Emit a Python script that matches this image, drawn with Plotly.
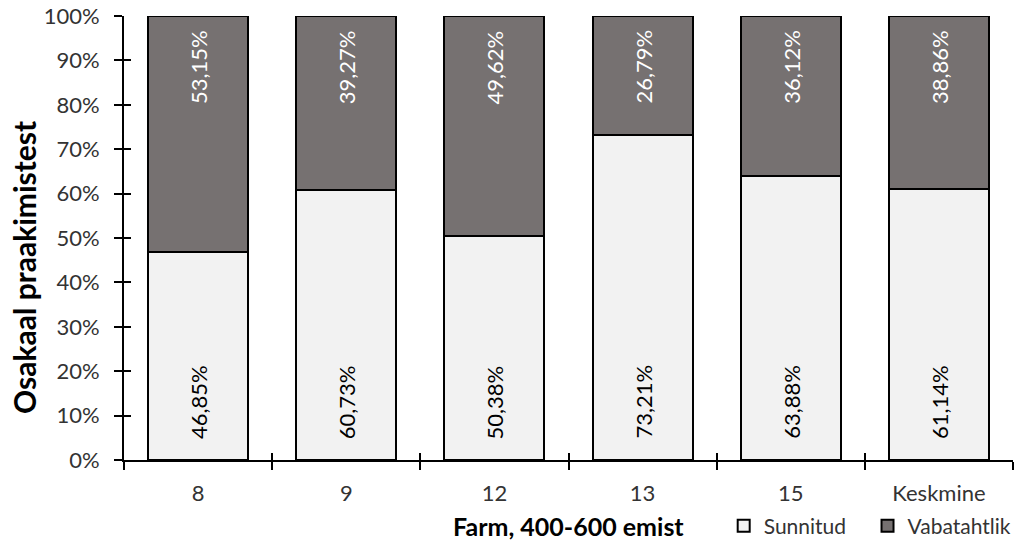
import plotly.graph_objects as go

categories = ["8", "9", "12", "13", "15", "Keskmine"]
sunnitud = [46.85, 60.73, 50.38, 73.21, 63.88, 61.14]
vabatahtlik = [53.15, 39.27, 49.62, 26.79, 36.12, 38.86]
y_ticks = [0, 10, 20, 30, 40, 50, 60, 70, 80, 90, 100]

FONT = "Lato"
LIGHT = "#f2f2f2"
DARK = "#767171"
TXT = "#333333"


def fmt(v):
    return f"{v:.2f}".replace(".", ",") + "%"


fig = go.Figure()
fig.add_trace(go.Bar(
    x=categories, y=sunnitud, name="Sunnitud", legend="legend",
    marker=dict(color=LIGHT, line=dict(color="black", width=2)),
    width=0.675, hoverinfo="skip",
))
fig.add_trace(go.Bar(
    x=categories, y=vabatahtlik, name="Vabatahtlik", legend="legend2",
    marker=dict(color=DARK, line=dict(color="black", width=2)),
    width=0.675, hoverinfo="skip",
))
# invisible trace carrying the secondary axes (inner tick halves)
fig.add_trace(go.Bar(x=categories, y=[0] * len(categories), xaxis="x2",
                     yaxis="y2", showlegend=False, hoverinfo="skip",
                     marker=dict(color="rgba(0,0,0,0)")))

annotations = []
for i, (s, v) in enumerate(zip(sunnitud, vabatahtlik)):
    annotations.append(dict(
        x=i, y=0, xref="x", yref="y", text=fmt(s), showarrow=False,
        textangle=-90, yanchor="bottom", yshift=19,
        font=dict(family=FONT, size=22, color="black"),
    ))
    annotations.append(dict(
        x=i, y=s + v, xref="x", yref="y", text=fmt(v), showarrow=False,
        textangle=-90, yanchor="top", yshift=-12,
        font=dict(family=FONT, size=22, color="white"),
    ))

# axis titles
annotations.append(dict(
    x=0.5, y=-0.1486, xref="paper", yref="paper", showarrow=False,
    text="<b>Farm, 400-600 emist</b>", xanchor="center", yanchor="middle",
    font=dict(family=FONT, size=25, color="black"),
))
annotations.append(dict(
    x=-0.1125, y=0.4347, xref="paper", yref="paper", showarrow=False,
    text="<b>Osakaal praakimistest</b>", textangle=-90,
    xanchor="center", yanchor="middle",
    font=dict(family=FONT, size=30, color="black"),
))

n = len(categories)
xr = [-0.5, n - 0.5]

legend_common = dict(
    orientation="h", xref="container", yref="container",
    xanchor="left", y=0.0349, yanchor="middle",
    font=dict(family=FONT, size=21, color=TXT), itemwidth=30,
)

fig.update_layout(
    barmode="stack",
    width=1015, height=545,
    margin=dict(l=124, r=2, t=16, b=85),
    plot_bgcolor="white", paper_bgcolor="white",
    font=dict(family=FONT, size=22, color=TXT),
    annotations=annotations,
    showlegend=True,
    hovermode=False,
    legend=dict(x=0.7130, **legend_common),
    legend2=dict(x=0.8547, **legend_common),
    xaxis=dict(
        type="category", range=xr, automargin=False,
        categoryorder="array", categoryarray=categories,
        showline=True, linecolor="black", linewidth=2,
        ticks="outside", tickson="boundaries", ticklen=8, tickwidth=2,
        tickcolor="black", showgrid=False, tickangle=0,
        ticklabelstandoff=13, ticklabeloverflow="allow",
        tickfont=dict(family=FONT, size=22, color=TXT),
    ),
    yaxis=dict(
        range=[0, 100], automargin=False, tickvals=y_ticks,
        ticktext=[f"{t}%" for t in y_ticks],
        showline=True, linecolor="black", linewidth=2,
        ticks="outside", ticklen=8, tickwidth=2, tickcolor="black",
        showgrid=False, zeroline=False, ticklabelstandoff=10,
        ticklabeloverflow="allow",
        tickfont=dict(family=FONT, size=22, color=TXT),
    ),
    xaxis2=dict(
        type="category", overlaying="x", range=xr, automargin=False,
        categoryorder="array", categoryarray=categories,
        showticklabels=False,
        ticks="inside", tickson="boundaries", ticklen=7, tickwidth=2,
        tickcolor="black", showgrid=False, showline=False,
        anchor="y2",
    ),
    yaxis2=dict(
        overlaying="y", range=[0, 100], automargin=False,
        showticklabels=False,
        tickvals=y_ticks, ticks="inside", ticklen=7, tickwidth=2,
        tickcolor="black", showgrid=False, showline=False, zeroline=False,
        anchor="x2",
    ),
)

fig.write_html(
    "out.html",
    config={"displayModeBar": False, "staticPlot": True},
    post_script="document.body.style.margin='0px';"
                "document.body.style.overflow='hidden';",
)
